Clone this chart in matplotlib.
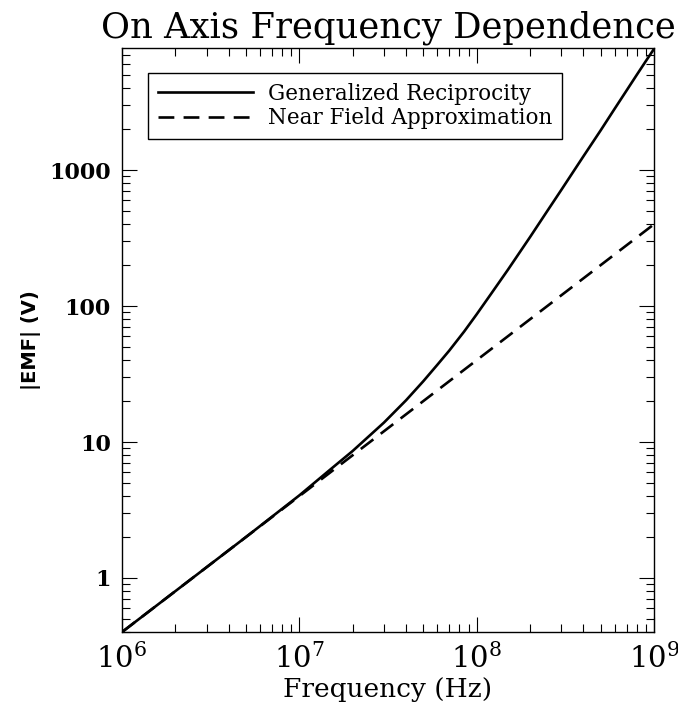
import math
import matplotlib
matplotlib.use('Agg')
from matplotlib import pyplot as plt
from matplotlib import ticker

# 读图得到的数据
freq_gr = [1e6, 2e6, 5e6, 1e7, 1.5e7, 2e7, 3e7, 4e7, 5e7, 6e7, 7e7, 8.5e7, 1e8, 1.2e8,
           1.5e8, 2e8, 2.5e8, 3e8, 4e8, 5e8, 6e8, 7e8, 8e8, 9e8, 1e9]
emf_gr = [0.40, 0.80, 2.0, 4.05, 6.3, 8.6, 13.9, 20.3, 28, 37, 47, 65, 87, 122,
          185, 322, 500, 715, 1265, 1960, 2830, 3850, 5030, 6350, 7800]
freq_nf = [1e6, 1e7, 1e8, 1e9]
emf_nf = [0.40, 4.0, 40, 400]
labels = ['Generalized Reciprocity', 'Near Field Approximation']

serif = ['DejaVu Serif']

fig = plt.figure(figsize=(6.78, 7.08), dpi=100)
ax = fig.add_axes([0.180, 0.1073, 0.7846, 0.8247])

ax.plot(freq_gr, emf_gr, color='black', lw=1.9, label=labels[0])
ax.plot(freq_nf, emf_nf, color='black', lw=1.9, dashes=(6, 3.5), label=labels[1])

ax.set_xscale('log')
ax.set_yscale('log')
ax.set_xlim(1e6, 1e9)
ax.set_ylim(0.40, 7900)

ax.tick_params(which='both', direction='in', top=True, right=True, width=0.8)
ax.tick_params(which='major', length=11, pad=8)
ax.tick_params(which='minor', length=6)
ax.xaxis.set_major_formatter(ticker.FuncFormatter(
    lambda v, p: r'$\mathregular{10^{%d}}$' % round(math.log10(v))))
ax.yaxis.set_major_formatter(ticker.FuncFormatter(lambda v, p: '%g' % v))
ax.yaxis.set_minor_formatter(ticker.NullFormatter())
for lab in ax.get_xticklabels():
    lab.set_fontfamily(serif)
    lab.set_fontsize(21)
for lab in ax.get_yticklabels():
    lab.set_fontfamily(serif)
    lab.set_fontsize(16)
    lab.set_fontweight('bold')
for s in ax.spines.values():
    s.set_linewidth(1.0)

ax.set_title('On Axis Frequency Dependence', fontsize=25.5, family=serif, pad=8)
ax.set_xlabel('Frequency (Hz)', fontsize=19, family=serif, labelpad=2)
ax.set_ylabel('|EMF| (V)', fontsize=14, family='DejaVu Sans', fontweight='bold', labelpad=6)

leg = ax.legend(loc='upper left', bbox_to_anchor=(0.049, 0.957), fancybox=False,
                edgecolor='black', framealpha=1, handlelength=4.4,
                prop={'family': serif, 'size': 15.5}, borderpad=0.45,
                labelspacing=0.1, handletextpad=0.7, borderaxespad=0)
leg.get_frame().set_linewidth(1.0)

fig.savefig('out.png', dpi=100)
